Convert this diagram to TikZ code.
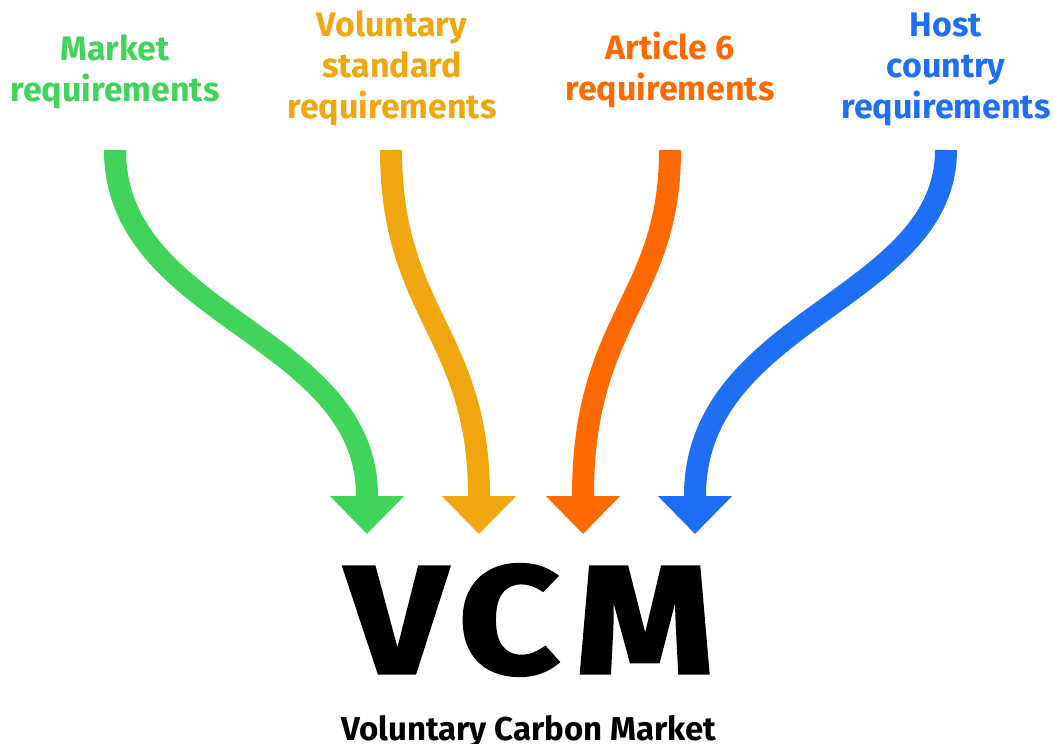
\documentclass[tikz,border=0pt]{standalone}
\usepackage{fontspec}
\setmainfont{Fira Sans}
\newfontfamily\vcmfont{Fira Sans}[UprightFont=* Bold, FakeStretch=1.15, FakeBold=2]
\usetikzlibrary{arrows.meta}
\definecolor{cgreen}{RGB}{64,212,90}
\definecolor{cyellow}{RGB}{239,166,15}
\definecolor{corange}{RGB}{255,106,0}
\definecolor{cblue}{RGB}{31,111,245}
\tikzset{
  label/.style={font=\bfseries\fontsize{34}{41}\selectfont, align=center, anchor=base, inner sep=0pt},
  flow/.style={line width=22pt, -{Triangle[width=72pt,length=38pt]}},
}
\begin{document}
\begin{tikzpicture}[x=1pt,y=1pt]
\useasboundingbox (0,0) rectangle (1053,-744);
\node[label, text=cgreen] (market) at (115,-101) {Market\\requirements};
\node[label, text=cyellow] (vol) at (392,-118) {Voluntary\\standard\\requirements};
\node[label, text=corange] (art) at (670,-100) {Article 6\\requirements};
\node[label, text=cblue] (host) at (946,-118) {Host\\country\\requirements};
\node[font=\vcmfont\fontsize{153}{153}\selectfont, anchor=base, inner sep=0pt] (vcm) at (530,-673) {V\kern 12pt C\kern 16pt M};
\node[font=\bfseries\fontsize{33}{36}\selectfont, anchor=base, inner sep=0pt] (full) at (529,-740) {Voluntary Carbon Market};
\coordinate (s1) at (115,-150); \coordinate (e1) at (367,-534);
\coordinate (s2) at (391,-150); \coordinate (e2) at (479,-534);
\coordinate (s3) at (670,-150); \coordinate (e3) at (583,-534);
\coordinate (s4) at (946,-150); \coordinate (e4) at (695,-534);
\draw[flow, cgreen] (s1) .. controls +(0,-168) and +(0,162) .. ([yshift=38pt]e1) -- (e1);
\draw[flow, cyellow] (s2) .. controls +(0,-164) and +(0,162) .. ([yshift=38pt]e2) -- (e2);
\draw[flow, corange] (s3) .. controls +(0,-150) and +(0,178) .. ([yshift=38pt]e3) -- (e3);
\draw[flow, cblue] (s4) .. controls +(0,-150) and +(0,178) .. ([yshift=38pt]e4) -- (e4);
\end{tikzpicture}
\end{document}
